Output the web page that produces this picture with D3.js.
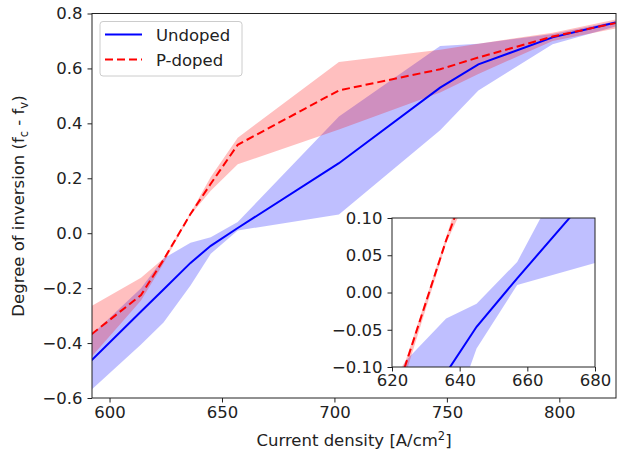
<!DOCTYPE html>
<html><head><meta charset="utf-8">
<script src="https://cdn.jsdelivr.net/npm/d3@7"></script>
<style>body{margin:0;background:#fff}svg text{font-family:"DejaVu Sans",sans-serif;fill:#222}</style>
</head><body>
<svg id="c" width="617" height="453"></svg>
<script>
// ---- data ----
const currentDensity = [592, 614, 624, 636, 645, 657, 702, 747, 764, 797, 825];
const undopedMean = [-0.463, -0.285, -0.205, -0.108, -0.046, 0.019, 0.255, 0.530, 0.615, 0.713, 0.767];
const undopedLow  = [-0.570, -0.405, -0.325, -0.190, -0.075, 0.010, 0.068, 0.375, 0.520, 0.688, 0.753];
const undopedHigh = [-0.370, -0.200, -0.092, -0.035, -0.015, 0.041, 0.425, 0.682, 0.690, 0.725, 0.772];
const pdopedMean  = [-0.368, -0.225, -0.097, 0.070, 0.180, 0.322, 0.520, 0.597, 0.640, 0.716, 0.765];
const pdopedLow   = [-0.450, -0.245, -0.110, 0.066, 0.155, 0.251, 0.378, 0.512, 0.580, 0.700, 0.745];
const pdopedHigh  = [-0.265, -0.162, -0.092, 0.074, 0.205, 0.348, 0.623, 0.668, 0.690, 0.730, 0.778];
const seriesNames = ["Undoped", "P-doped"];
const xTicks = [600, 650, 700, 750, 800];
const yTicks = [-0.6, -0.4, -0.2, 0.0, 0.2, 0.4, 0.6, 0.8];
const insetXTicks = [620, 640, 660, 680];
const insetYTicks = [-0.10, -0.05, 0.00, 0.05, 0.10];

const svg = d3.select("#c");
const FS = "16.5px";

const series = [
  {name: seriesNames[0], mean: undopedMean, low: undopedLow, high: undopedHigh, color: "#0000ff", dash: null},
  {name: seriesNames[1], mean: pdopedMean, low: pdopedLow, high: pdopedHigh, color: "#ff0000", dash: "8,4"}
];

function drawPanel(g, x, y, id) {
  const [x0, x1] = x.range(), [y1, y0] = y.range();
  g.append("rect").attr("x", x0).attr("y", y0).attr("width", x1 - x0).attr("height", y1 - y0).attr("fill", "#fff");
  svg.append("defs").append("clipPath").attr("id", id)
    .append("rect").attr("x", x0).attr("y", y0).attr("width", x1 - x0).attr("height", y1 - y0);
  const pg = g.append("g").attr("clip-path", `url(#${id})`);
  series.forEach(s => {
    const area = d3.area().x((d, i) => x(currentDensity[i])).y0((d, i) => y(s.low[i])).y1((d, i) => y(s.high[i]));
    pg.append("path").datum(s.mean).attr("d", area).attr("fill", s.color).attr("fill-opacity", 0.25).attr("stroke", "none");
  });
  series.forEach(s => {
    const line = d3.line().x((d, i) => x(currentDensity[i])).y(d => y(d));
    pg.append("path").datum(s.mean).attr("d", line).attr("fill", "none").attr("stroke", s.color)
      .attr("stroke-width", 2).attr("stroke-dasharray", s.dash);
  });
  g.append("rect").attr("x", x0).attr("y", y0).attr("width", x1 - x0).attr("height", y1 - y0)
    .attr("fill", "none").attr("stroke", "#222").attr("stroke-width", 1);
}

function styleAxis(a) {
  a.select(".domain").remove();
  a.selectAll(".tick line").attr("stroke", "#222");
  a.selectAll(".tick text").style("font-size", FS).attr("fill", "#222");
}

// main axes
const x = d3.scaleLinear().domain([592.2, 825.2]).range([92, 616]);
const y = d3.scaleLinear().domain([-0.6, 0.8]).range([398, 13.5]);
const main = svg.append("g");
drawPanel(main, x, y, "clipMain");
const fmt1 = d => d3.format(".1f")(d).replace("-", "\u2212");
styleAxis(main.append("g").attr("transform", "translate(0,398)")
  .call(d3.axisBottom(x).tickValues(xTicks).tickSize(4.5).tickPadding(4).tickFormat(d3.format("d"))));
styleAxis(main.append("g").attr("transform", "translate(92,0)")
  .call(d3.axisLeft(y).tickValues(yTicks).tickSize(4.5).tickPadding(5).tickFormat(fmt1)));

// axis labels
const xl = svg.append("text").attr("x", 354).attr("y", 446).attr("text-anchor", "middle").style("font-size", FS);
xl.append("tspan").text("Current density [A/cm");
xl.append("tspan").attr("dy", -6).style("font-size", "11.5px").text("2");
xl.append("tspan").attr("dy", 6).text("]");
const yl = svg.append("text").attr("transform", "translate(24,206) rotate(-90)").attr("text-anchor", "middle").style("font-size", FS);
yl.append("tspan").text("Degree of inversion (f");
yl.append("tspan").attr("dy", 4).style("font-size", "11.5px").text("c");
yl.append("tspan").attr("dy", -4).text(" - f");
yl.append("tspan").attr("dy", 4).style("font-size", "11.5px").text("v");
yl.append("tspan").attr("dy", -4).text(")");

// legend
const lg = svg.append("g");
lg.append("rect").attr("x", 100).attr("y", 21.5).attr("width", 142).attr("height", 54.5).attr("rx", 3)
  .attr("fill", "#fff").attr("fill-opacity", 0.8).attr("stroke", "#ccc");
series.forEach((s, i) => {
  const yy = 34.5 + i * 25;
  lg.append("line").attr("x1", 105).attr("x2", 142).attr("y1", yy).attr("y2", yy)
    .attr("stroke", s.color).attr("stroke-width", 2).attr("stroke-dasharray", s.dash);
  lg.append("text").attr("x", 156).attr("y", yy + 6).style("font-size", FS).text(s.name);
});

// inset
const xi = d3.scaleLinear().domain([620, 680]).range([392, 595]);
const yi = d3.scaleLinear().domain([-0.1, 0.1]).range([367, 218]);
const inset = svg.append("g");
drawPanel(inset, xi, yi, "clipInset");
styleAxis(inset.append("g").attr("transform", "translate(0,367)")
  .call(d3.axisBottom(xi).tickValues(insetXTicks).tickSize(4.5).tickPadding(3).tickFormat(d3.format("d"))));
styleAxis(inset.append("g").attr("transform", "translate(392,0)")
  .call(d3.axisLeft(yi).tickValues(insetYTicks).tickSize(4.5).tickPadding(5)
    .tickFormat(d => d3.format(".2f")(d).replace("-", "\u2212"))));
</script>
</body></html>
